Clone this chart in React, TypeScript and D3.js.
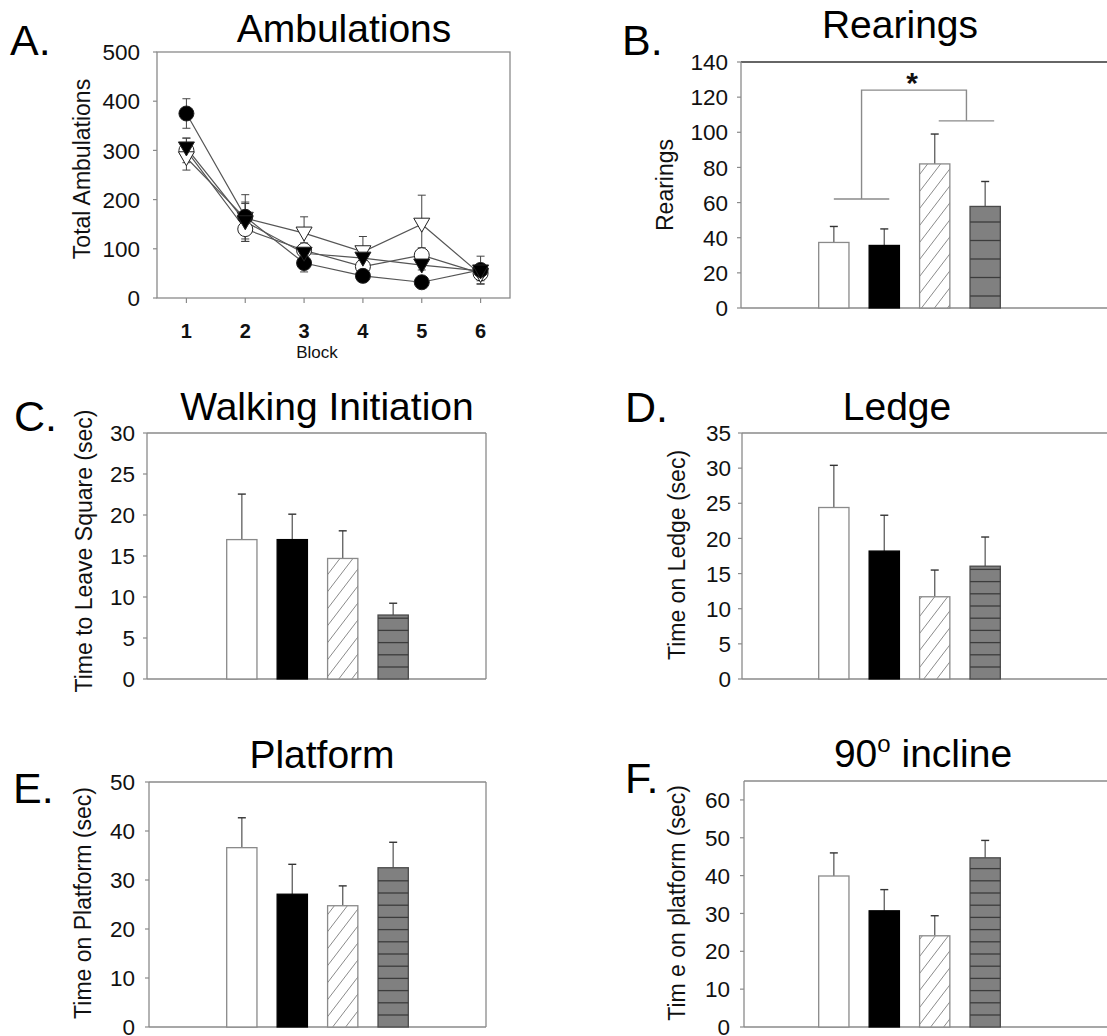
import React from "react";
import * as d3 from "d3";

const FONT = "'Liberation Sans', Arial, Helvetica, sans-serif";

// ---------- Panel A: ambulations per block (mean and SE for the four groups) ----------
const blocks = [1, 2, 3, 4, 5, 6];
const ambTicks = [0, 100, 200, 300, 400, 500];
const ambFilledCircle = [375, 165, 71, 45, 32, 57];
const ambFilledCircleSE = [30, 45, 18, 10, 10, 28];
const ambOpenCircle = [300, 140, 97, 64, 87, 50];
const ambOpenCircleSE = [25, 25, 15, 15, 15, 15];
const ambFilledTriangle = [305, 155, 91, 81, 67, 55];
const ambFilledTriangleSE = [20, 40, 12, 15, 10, 12];
const ambOpenTriangle = [285, 162, 132, 94, 150, 48];
const ambOpenTriangleSE = [25, 30, 33, 31, 59, 20];

// ---------- Bar panels: four groups, each with a fill style ----------
const groups = ["open", "solid", "hatched", "striped"];

const rearings = [37.3, 35.6, 82, 57.8];
const rearingsSE = [9.1, 9.4, 17, 14.2];
const rearingsTicks = [0, 20, 40, 60, 80, 100, 120, 140];
// significance bracket: groups 1-2 vs groups 3-4
const rearingsBracketLeft = 62;
const rearingsBracketRight = 106.5;
const rearingsBracketTop = 124;

const walking = [17.0, 17.0, 14.7, 7.8];
const walkingSE = [5.55, 3.1, 3.37, 1.44];
const walkingTicks = [0, 5, 10, 15, 20, 25, 30];

const ledge = [24.4, 18.2, 11.7, 16.05];
const ledgeSE = [6.0, 5.1, 3.8, 4.15];
const ledgeTicks = [0, 5, 10, 15, 20, 25, 30, 35];

const platform = [36.6, 27.1, 24.75, 32.5];
const platformSE = [6.1, 6.1, 4.05, 5.2];
const platformTicks = [0, 10, 20, 30, 40, 50];

const incline = [39.9, 30.7, 24.1, 44.7];
const inclineSE = [6.1, 5.6, 5.3, 4.6];
const inclineTicks = [0, 10, 20, 30, 40, 50, 60];

const W = 1107;
const H = 1036;
const FRAME = "#8a8a8a";
const TICK_FS = 22.5;
const LABEL_FS = 23;
const TITLE_FS = 39;

type BarCfg = {
  letter: string; letterX: number; letterY: number;
  title: React.ReactNode; titleX: number; titleY: number;
  yLabel: string; yLabelX: number; yLabelY: number;
  frameLeft: number; frameRight: number | null; top: number; bottom: number;
  bandX0: number; yMax: number; ticks: number[]; tickRight: number;
  values: number[]; errors: number[]; stripeGap: number; topStroke?: string;
  bracket?: boolean;
};

function BarPanel({ p }: { p: BarCfg }) {
  const x = d3.scaleBand<string>().domain(groups).range([p.bandX0, p.bandX0 + 339])
    .paddingInner(0.4).paddingOuter(1.56);
  const y = d3.scaleLinear().domain([0, p.yMax]).range([p.bottom, p.top]);
  const bw = x.bandwidth();
  const right = p.frameRight ?? W + 5;
  return (
    <g>
      <text x={p.letterX} y={p.letterY} fontSize={43} fontFamily={FONT}>{p.letter}</text>
      <text x={p.titleX} y={p.titleY} fontSize={TITLE_FS} fontFamily={FONT} textAnchor="middle">{p.title}</text>
      <text transform={`translate(${p.yLabelX},${p.yLabelY}) rotate(-90)`} fontSize={LABEL_FS}
        fontFamily={FONT} textAnchor="middle" fill="#111">{p.yLabel}</text>
      {/* frame */}
      <line x1={p.frameLeft} x2={right} y1={p.top} y2={p.top} stroke={p.topStroke ?? FRAME} strokeWidth={1.3} />
      <line x1={p.frameLeft} x2={right} y1={p.bottom} y2={p.bottom} stroke={FRAME} strokeWidth={1.3} />
      <line x1={p.frameLeft} x2={p.frameLeft} y1={p.top} y2={p.bottom} stroke={FRAME} strokeWidth={1.3} />
      {p.frameRight !== null && (
        <line x1={right} x2={right} y1={p.top} y2={p.bottom} stroke={FRAME} strokeWidth={1.3} />
      )}
      {/* y axis ticks */}
      {p.ticks.map((t) => (
        <g key={t}>
          <line x1={p.frameLeft - 4} x2={p.frameLeft} y1={y(t)} y2={y(t)} stroke={FRAME} strokeWidth={1.2} />
          <text x={p.tickRight} y={y(t)} dy="0.36em" textAnchor="end" fontSize={TICK_FS} fontFamily={FONT} fill="#111">{t}</text>
        </g>
      ))}
      {/* bars */}
      {groups.map((g, i) => {
        const x0 = x(g)!;
        const yt = y(p.values[i]);
        const h = p.bottom - yt;
        const ye = y(p.values[i] + p.errors[i]);
        const cx = x0 + bw / 2;
        let fill = "#fff", stroke = FRAME;
        if (g === "solid") { fill = "#000"; stroke = "#000"; }
        if (g === "hatched") { fill = "url(#hatch)"; stroke = "#8a8a8a"; }
        if (g === "striped") { fill = "#808080"; stroke = "#4a4a4a"; }
        const stripes = g === "striped" ? d3.range(p.bottom - 12, yt + 2, -p.stripeGap) : [];
        return (
          <g key={g}>
            <line x1={cx} x2={cx} y1={yt} y2={ye} stroke="#6a6a6a" strokeWidth={1.4} />
            <line x1={cx - 4} x2={cx + 4} y1={ye} y2={ye} stroke="#333" strokeWidth={1.4} />
            <rect x={x0} y={yt} width={bw} height={h} fill={fill} stroke={stroke} strokeWidth={1.3} />
            {stripes.map((sy) => (
              <line key={sy} x1={x0} x2={x0 + bw} y1={sy} y2={sy} stroke="#3c3c3c" strokeWidth={1.3} />
            ))}
          </g>
        );
      })}
      {p.bracket && (() => {
        const c = groups.map((g) => x(g)! + bw / 2);
        const l0 = c[0], l1 = c[1] + 5, r0 = c[2] + 4, r1 = c[3] + 9;
        const lm = (l0 + l1) / 2, rm = (r0 + r1) / 2;
        const yl = y(rearingsBracketLeft), yr = y(rearingsBracketRight), yt = y(rearingsBracketTop);
        return (
          <g stroke={FRAME} strokeWidth={1.4} fill="none">
            <line x1={l0} x2={l1} y1={yl} y2={yl} />
            <line x1={r0} x2={r1} y1={yr} y2={yr} />
            <polyline points={`${lm},${yl} ${lm},${yt} ${rm},${yt} ${rm},${yr}`} />
            <text x={(lm + rm) / 2 - 2} y={yt + 3} textAnchor="middle" fontSize={30} fontWeight="bold"
              fontFamily={FONT} fill="#111" stroke="none">*</text>
          </g>
        );
      })()}
    </g>
  );
}

function AmbulationPanel() {
  const left = 157, right = 510, top = 52, bottom = 298;
  const x = d3.scaleLinear().domain([0.5, 6.5]).range([left, right]);
  const y = d3.scaleLinear().domain([0, 500]).range([bottom, top]);
  const line = d3.line<number>().x((_, i) => x(blocks[i])).y((d) => y(d));
  const series = [
    { key: "oc", vals: ambOpenCircle, se: ambOpenCircleSE, shape: "circle", fill: "#fff" },
    { key: "ot", vals: ambOpenTriangle, se: ambOpenTriangleSE, shape: "tri", fill: "#fff" },
    { key: "fc", vals: ambFilledCircle, se: ambFilledCircleSE, shape: "circle", fill: "#000" },
    { key: "ft", vals: ambFilledTriangle, se: ambFilledTriangleSE, shape: "tri", fill: "#000" },
  ];
  return (
    <g>
      <text x={10} y={55} fontSize={43} fontFamily={FONT}>A.</text>
      <text x={344} y={42} fontSize={TITLE_FS} fontFamily={FONT} textAnchor="middle">Ambulations</text>
      <text transform={`translate(90,169) rotate(-90)`} fontSize={LABEL_FS} fontFamily={FONT}
        textAnchor="middle" fill="#111">Total Ambulations</text>
      <rect x={left} y={top} width={right - left} height={bottom - top} fill="none" stroke={FRAME} strokeWidth={1.3} />
      {ambTicks.map((t) => (
        <g key={t}>
          <line x1={left - 4} x2={left} y1={y(t)} y2={y(t)} stroke={FRAME} strokeWidth={1.2} />
          <text x={140} y={y(t)} dy="0.36em" textAnchor="end" fontSize={TICK_FS} fontFamily={FONT} fill="#111">{t}</text>
        </g>
      ))}
      {blocks.map((b) => (
        <g key={b}>
          <line x1={x(b)} x2={x(b)} y1={bottom} y2={bottom + 5} stroke={FRAME} strokeWidth={1.2} />
          <text x={x(b)} y={338} textAnchor="middle" fontSize={20} fontWeight="bold" fontFamily={FONT} fill="#111">{b}</text>
        </g>
      ))}
      <text x={317} y={358} textAnchor="middle" fontSize={17} fontFamily={FONT} fill="#111">Block</text>
      {series.map((s) => (
        <path key={s.key} d={line(s.vals) ?? ""} fill="none" stroke="#555" strokeWidth={1.2} />
      ))}
      {series.map((s) =>
        s.vals.map((v, i) => {
          const cx = x(blocks[i]);
          const hi = y(v + s.se[i]), lo = y(v - s.se[i]);
          return (
            <g key={s.key + i} stroke="#444" strokeWidth={1}>
              <line x1={cx} x2={cx} y1={hi} y2={lo} />
              <line x1={cx - 4} x2={cx + 4} y1={hi} y2={hi} />
              <line x1={cx - 4} x2={cx + 4} y1={lo} y2={lo} />
            </g>
          );
        })
      )}
      {series.map((s) =>
        s.vals.map((v, i) => {
          const cx = x(blocks[i]), cy = y(v);
          return s.shape === "circle" ? (
            <circle key={s.key + "m" + i} cx={cx} cy={cy} r={7.5} fill={s.fill} stroke="#222" strokeWidth={1} />
          ) : (
            <path key={s.key + "m" + i} transform={`translate(${cx},${cy})`} d="M-8,-6L8,-6L0,8Z"
              fill={s.fill} stroke="#222" strokeWidth={1} />
          );
        })
      )}
    </g>
  );
}

const panelB: BarCfg = {
  letter: "B.", letterX: 622, letterY: 55, title: "Rearings", titleX: 900, titleY: 38,
  yLabel: "Rearings", yLabelX: 673, yLabelY: 185, frameLeft: 741, frameRight: null,
  top: 62, bottom: 308, bandX0: 740, yMax: 140, ticks: rearingsTicks, tickRight: 728,
  values: rearings, errors: rearingsSE, stripeGap: 18.5, topStroke: "#333", bracket: true,
};
const panelC: BarCfg = {
  letter: "C.", letterX: 14, letterY: 431, title: "Walking Initiation", titleX: 327, titleY: 420,
  yLabel: "Time to Leave Square (sec)", yLabelX: 92, yLabelY: 551, frameLeft: 147, frameRight: 486,
  top: 433, bottom: 679, bandX0: 148, yMax: 30, ticks: walkingTicks, tickRight: 135,
  values: walking, errors: walkingSE, stripeGap: 12.2,
};
const panelD: BarCfg = {
  letter: "D.", letterX: 625, letterY: 422, title: "Ledge", titleX: 897, titleY: 420,
  yLabel: "Time on Ledge (sec)", yLabelX: 685, yLabelY: 555, frameLeft: 742, frameRight: null,
  top: 433, bottom: 679, bandX0: 740, yMax: 35, ticks: ledgeTicks, tickRight: 731,
  values: ledge, errors: ledgeSE, stripeGap: 12.2,
};
const panelE: BarCfg = {
  letter: "E.", letterX: 13, letterY: 803, title: "Platform", titleX: 322, titleY: 768,
  yLabel: "Time on Platform (sec)", yLabelX: 91, yLabelY: 903, frameLeft: 149, frameRight: 486,
  top: 782, bottom: 1027, bandX0: 148, yMax: 50, ticks: platformTicks, tickRight: 135,
  values: platform, errors: platformSE, stripeGap: 12.2,
};
const panelF: BarCfg = {
  letter: "F.", letterX: 625, letterY: 793,
  title: (<>90<tspan dy={-15} fontSize={24}>o</tspan><tspan dy={15}> incline</tspan></>),
  titleX: 923, titleY: 767,
  yLabel: "Tim e on platform (sec)", yLabelX: 685, yLabelY: 903, frameLeft: 744, frameRight: null,
  top: 781, bottom: 1027, bandX0: 740, yMax: 65, ticks: inclineTicks, tickRight: 730,
  values: incline, errors: inclineSE, stripeGap: 12.2,
};

export default function App() {
  return (
    <svg width={W} height={H} viewBox={`0 0 ${W} ${H}`}
      style={{ position: "absolute", left: 0, top: 0, background: "#fff", display: "block" }}>
      <defs>
        <pattern id="hatch" patternUnits="userSpaceOnUse" width={13} height={17}>
          <rect width={13} height={17} fill="#fff" />
          <path d="M0,17L13,0M-3,4L3,-4M10,21L16,13" stroke="#8a8a8a" strokeWidth={1} />
        </pattern>
      </defs>
      <rect width={W} height={H} fill="#fff" />
      <AmbulationPanel />
      <BarPanel p={panelB} />
      <BarPanel p={panelC} />
      <BarPanel p={panelD} />
      <BarPanel p={panelE} />
      <BarPanel p={panelF} />
    </svg>
  );
}
